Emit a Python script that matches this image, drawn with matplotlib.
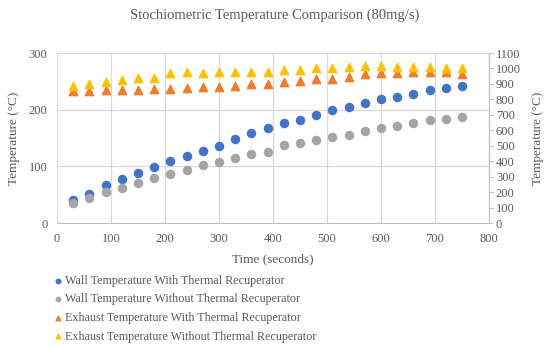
import matplotlib.pyplot as plt

plt.rcParams['font.family'] = ['Liberation Serif', 'DejaVu Serif']

time = [30, 60, 90, 120, 150, 180, 210, 240, 270, 300, 330, 360, 390, 420, 450,
        480, 510, 540, 570, 600, 630, 660, 690, 720, 750]

wall_with = [41, 51, 68, 78, 88, 99, 109, 119, 128, 136, 148, 159, 167, 177, 182,
             191, 199, 205, 212, 218, 222, 228, 234, 239, 242]
wall_without = [35, 45, 54, 62, 71, 80, 87, 94, 102, 108, 114, 121, 126, 137, 141,
                147, 152, 155, 162, 167, 172, 176, 181, 183, 187]
exhaust_with = [854, 856, 860, 860, 862, 865, 867, 873, 880, 882, 884, 899, 897, 914, 919,
                930, 930, 945, 966, 970, 970, 975, 975, 975, 966]
exhaust_without = [884, 902, 910, 927, 936, 940, 970, 977, 970, 979, 975, 975, 979, 990, 992,
                   1005, 1005, 1011, 1016, 1018, 1009, 1009, 1009, 1005, 1003]

labels = ["Wall Temperature With Thermal Recuperator",
          "Wall Temperature Without Thermal Recuperator",
          "Exhaust Temperature With Thermal Recuperator",
          "Exhaust Temperature Without Thermal Recuperator"]

txt = '#595959'
grid = '#d9d9d9'

fig = plt.figure(figsize=(5.5, 3.48), dpi=100)
ax = fig.add_axes([0.1036, 0.359, 0.7854, 0.4887])
ax2 = ax.twinx()

h1 = ax.scatter(time, wall_with, s=34, color='#4472C4', marker='o', zorder=3, label=labels[0])
h2 = ax.scatter(time, wall_without, s=34, color='#A5A5A5', marker='o', zorder=3, label=labels[1])
h3 = ax2.scatter(time, exhaust_with, s=36, color='#ED7D31', marker='^', zorder=3, label=labels[2])
h4 = ax2.scatter(time, exhaust_without, s=36, color='#FFC000', marker='^', zorder=3, label=labels[3])

ax.set_xlim(0, 800)
ax.set_ylim(0, 300)
ax2.set_ylim(0, 1100)
ax.set_xticks(range(0, 801, 100))
ax.set_yticks(range(0, 301, 100))
ax2.set_yticks(range(0, 1101, 100))

ax.grid(True, color=grid, linewidth=0.9)
ax.set_axisbelow(True)
for a in (ax, ax2):
    for s in ['top', 'left']:
        a.spines[s].set_visible(False)
    a.spines['bottom'].set_color('#bfbfbf')
    a.spines['right'].set_color('#bfbfbf')
ax.spines['right'].set_visible(False)
ax2.spines['bottom'].set_visible(False)

ax.tick_params(axis='both', length=0, labelsize=9, colors=txt, pad=7)
ax2.tick_params(axis='y', length=3, labelsize=9, colors=txt, color='#bfbfbf', pad=2)

ax.set_xlabel('Time (seconds)', fontsize=9.5, color=txt, labelpad=6)
ax.set_ylabel('Temperature (°C)', fontsize=9.5, color=txt, labelpad=6)
ax2.set_ylabel('Temperature (°C)', fontsize=9.5, color=txt, labelpad=8)

fig.suptitle('Stochiometric Temperature Comparison (80mg/s)', fontsize=10.5, color=txt, y=0.975)

leg = fig.legend(handles=[h1, h2, h3, h4], loc='upper left', bbox_to_anchor=(0.08, 0.235),
                 frameon=False, fontsize=8.7, labelcolor=txt, handletextpad=0.05,
                 handlelength=1.0, labelspacing=0.55, markerscale=0.55,
                 borderpad=0.2)

fig.savefig('out.png', dpi=100)
